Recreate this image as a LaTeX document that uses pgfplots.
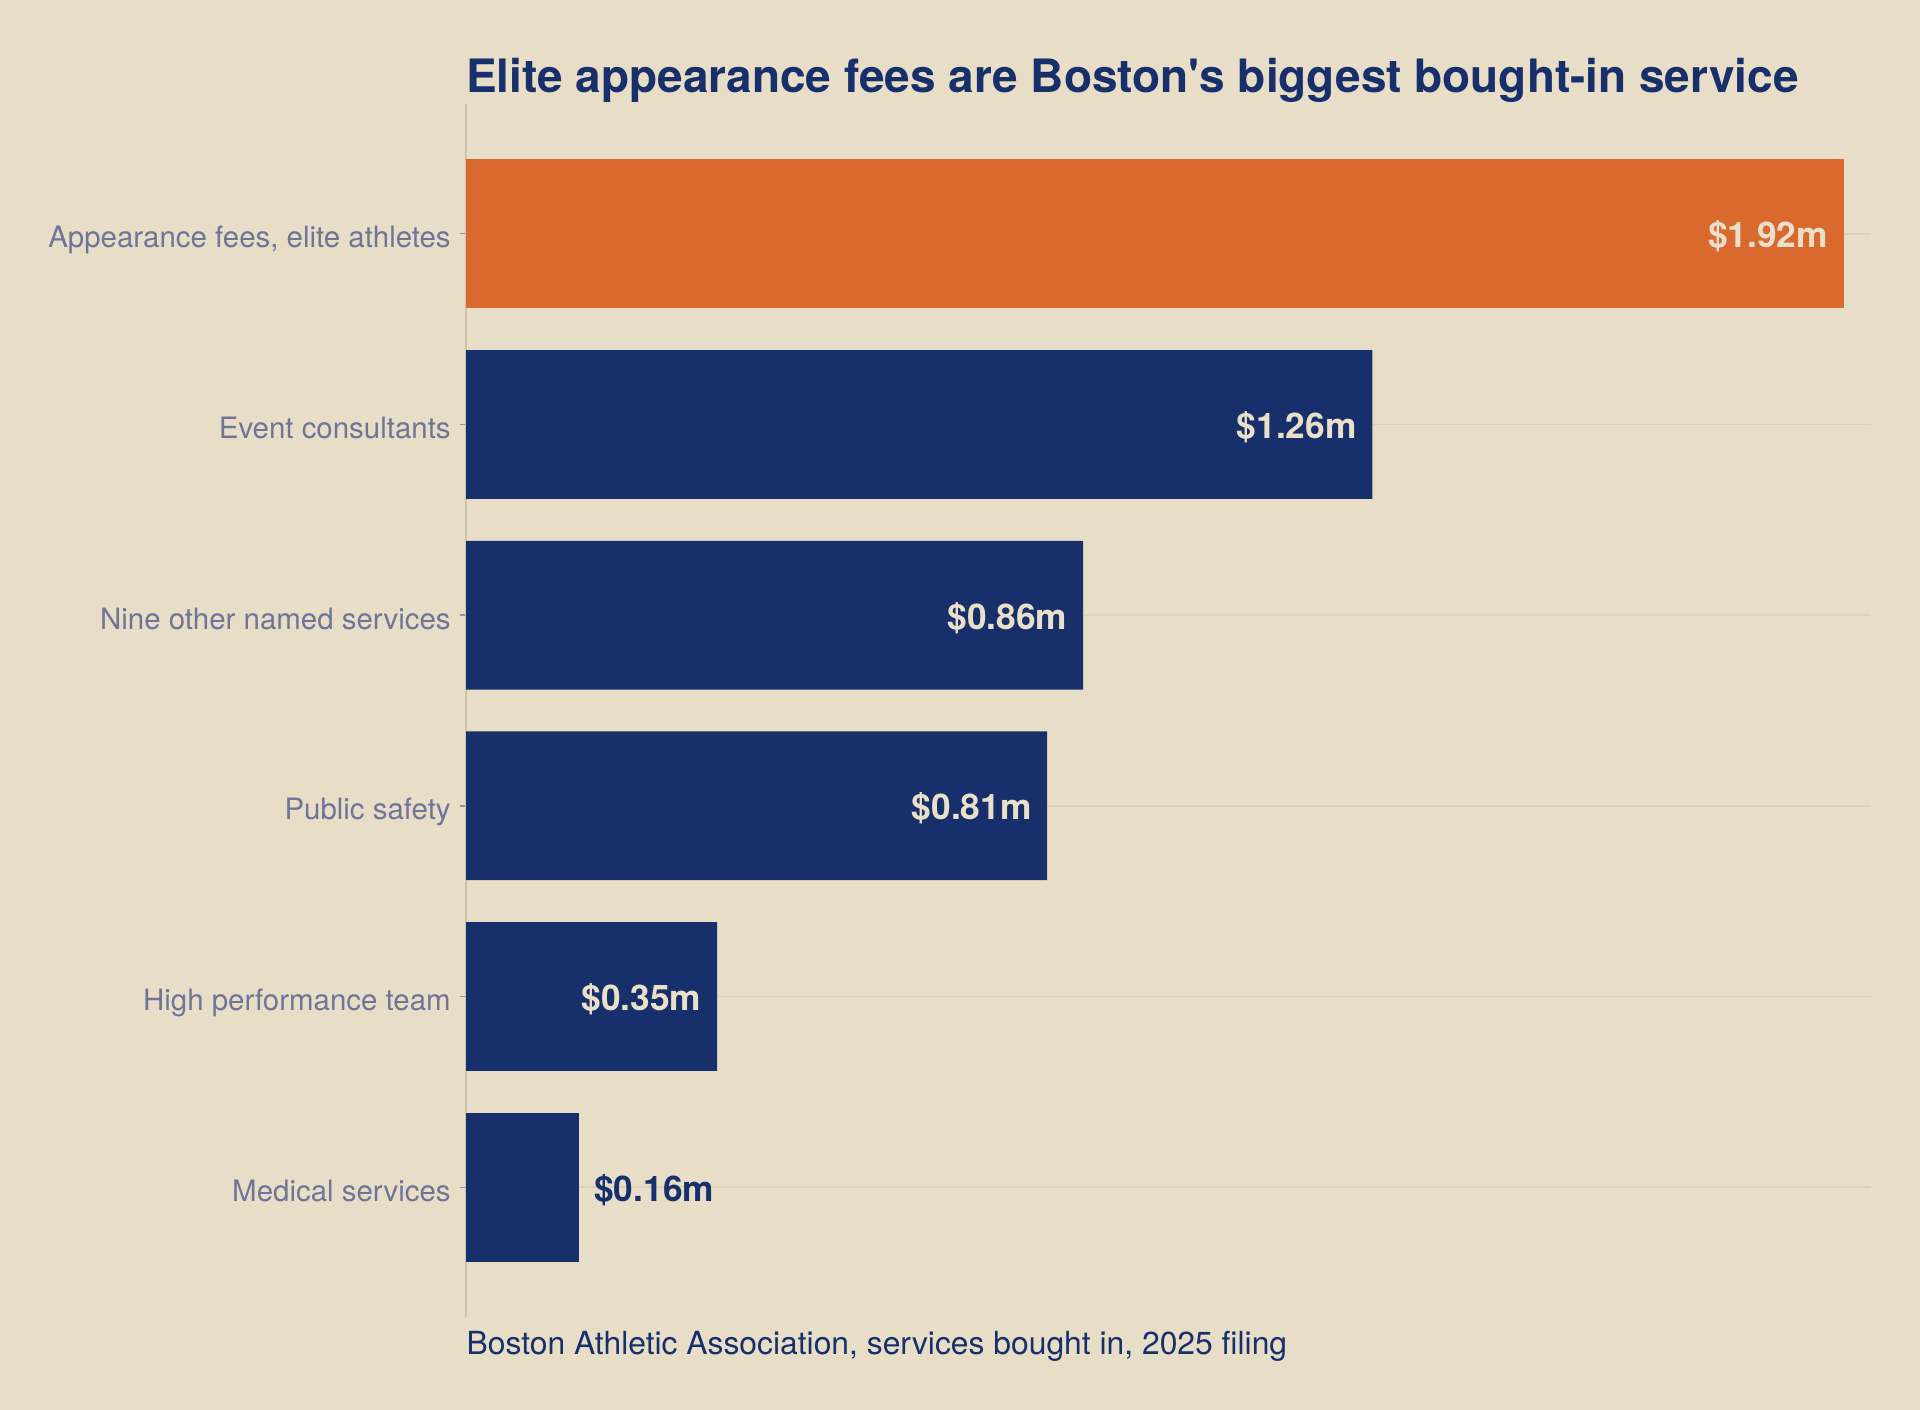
\documentclass[border=0pt]{standalone}
\usepackage{fontspec}
\setmainfont{TeX Gyre Heros}
\usepackage{pgfplots}
\pgfplotsset{compat=1.18}
\definecolor{bgcol}{HTML}{E8DEC7}
\definecolor{navy}{HTML}{17306B}
\definecolor{orangebar}{HTML}{D9692D}
\definecolor{ticklab}{HTML}{707497}
\definecolor{gridcol}{HTML}{DCD2BA}
\definecolor{axiscol}{HTML}{CDC3AB}
\definecolor{cream}{HTML}{EAE0C9}
\begin{document}
\begin{tikzpicture}
\fill[bgcol] (0,0) rectangle (691.2pt,507.6pt);
\path[use as bounding box] (0,0) rectangle (691.2pt,507.6pt);
\begin{axis}[
  at={(167.76pt,33.48pt)}, anchor=south west,
  scale only axis, width=505.8pt, height=436.68pt,
  xbar, bar width=0.78,
  xmin=0, xmax=1.958, ymin=-0.68, ymax=5.68, y dir=reverse,
  axis x line=none, axis y line*=left,
  y axis line style={draw=axiscol, line width=0.45pt},
  ytick={0,1,2,3,4,5},
  yticklabels={{Appearance fees, elite athletes},{Event consultants},{Nine other named services},{Public safety},{High performance team},{Medical services}},
  major tick length=2.2pt, tick align=outside,
  ytick style={draw=ticklab!80, line width=0.5pt},
  yticklabel style={font=\fontsize{10.6}{12}\selectfont, text=ticklab, anchor=base east, inner sep=0pt, yshift=-5pt, xshift=-3.1pt},
  ymajorgrids, grid style={draw=gridcol, line width=0.6pt},
  clip=false,
]
\addplot[xbar, bar shift=0pt, fill=orangebar, draw=none, point meta=explicit symbolic,
  nodes near coords={\$\pgfplotspointmeta m},
  nodes near coords style={anchor=base east, inner sep=0pt, xshift=-5.5pt, yshift=-5pt, text=cream, font=\bfseries\fontsize{12.7}{14}\selectfont}]
  coordinates {(1.92,0) [1.92]};
\addplot[xbar, bar shift=0pt, fill=navy, draw=none, point meta=explicit symbolic,
  nodes near coords={\$\pgfplotspointmeta m},
  nodes near coords style={anchor=base east, inner sep=0pt, xshift=-5.5pt, yshift=-5pt, text=cream, font=\bfseries\fontsize{12.7}{14}\selectfont}]
  coordinates {(1.263,1) [1.26] (0.86,2) [0.86] (0.81,3) [0.81] (0.35,4) [0.35]};
\addplot[xbar, bar shift=0pt, fill=navy, draw=none, point meta=explicit symbolic,
  nodes near coords={\$\pgfplotspointmeta m},
  nodes near coords style={anchor=base west, inner sep=0pt, xshift=5.2pt, yshift=-5pt, text=navy, font=\bfseries\fontsize{12.7}{14}\selectfont}]
  coordinates {(0.158,5) [0.16]};
\end{axis}
\node[anchor=base west, inner sep=0pt, text=navy, font=\bfseries\fontsize{16.55}{19}\selectfont] at (167.6pt,474.2pt) {Elite appearance fees are Boston\textquotesingle s biggest bought-in service};
\node[anchor=base west, inner sep=0pt, text=navy, font=\fontsize{11.46}{13}\selectfont] at (167.8pt,20.05pt) {Boston Athletic Association, services bought in, 2025 filing};
\end{tikzpicture}
\end{document}
